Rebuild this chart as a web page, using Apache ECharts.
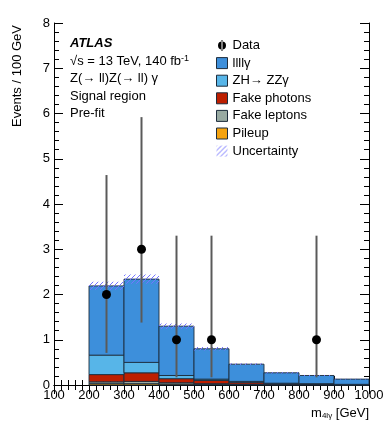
<!DOCTYPE html>
<html lang="en">
<head>
<meta charset="UTF-8">
<title>ATLAS m4lgamma signal region</title>
<script src="https://cdn.jsdelivr.net/npm/echarts@6/dist/echarts.min.js"></script>
<style>
  html, body { margin: 0; padding: 0; background: #fff; }
  #main { width: 389px; height: 438px; }
</style>
</head>
<body>
<div id="main"></div>
<script>
// bin lower edges (GeV), bin width 100
const binLow = [200, 300, 400, 500, 600, 700, 800, 900];
const binWidth = 100;

// stacked components, bottom to top (events / 100 GeV)
const pileup      = [0.03, 0.03, 0.02, 0.01, 0.01, 0.005, 0.005, 0.0];
const fakeLeptons = [0.04, 0.05, 0.03, 0.02, 0.01, 0.01, 0.005, 0.005];
const fakePhotons = [0.16, 0.19, 0.09, 0.07, 0.04, 0.015, 0.01, 0.005];
const zhZZg       = [0.43, 0.23, 0.07, 0.03, 0.02, 0.01, 0.01, 0.005];
const llllg       = [1.53, 1.84, 1.09, 0.67, 0.38, 0.23, 0.18, 0.115];
const uncertainty = [0.09, 0.10, 0.06, 0.04, 0.02, 0.015, 0.01, 0.008];

// data points
const dataX  = [250, 350, 450, 550, 850];
const dataY  = [2, 3, 1, 1, 1];
const dataLo = [0.71, 1.38, 0.17, 0.17, 0.17];
const dataHi = [4.64, 5.92, 3.30, 3.30, 3.30];

const stackDefs = [
  { name: 'Pileup', values: pileup, color: '#f5a30f' },
  { name: 'Fake leptons', values: fakeLeptons, color: '#98aaa2' },
  { name: 'Fake photons', values: fakePhotons, color: '#bd1f00' },
  { name: 'ZH\u2192 ZZ\u03b3', values: zhZZg, color: '#57b5e8' },
  { name: 'llll\u03b3', values: llllg, color: '#3d8fdb' }
];

// hatch pattern for uncertainty
const hatch = document.createElement('canvas');
hatch.width = 5; hatch.height = 5;
const hc = hatch.getContext('2d');
hc.strokeStyle = '#7474ff';
hc.lineWidth = 1;
hc.beginPath();
hc.moveTo(0, 5); hc.lineTo(5, 0);
hc.stroke();
const hatchFill = { image: hatch, repeat: 'repeat' };

const outline = '#1d2c3c';
const base = binLow.map(() => 0);
const series = [];

stackDefs.forEach(def => {
  const rows = binLow.map((x, i) => {
    const b = base[i];
    base[i] += def.values[i];
    return [x, x + binWidth, b, base[i]];
  });
  series.push({
    type: 'custom',
    name: def.name,
    itemStyle: { color: def.color, borderColor: outline, borderWidth: 1 },
    data: rows,
    renderItem: function (params, api) {
      const p0 = api.coord([api.value(0), api.value(2)]);
      const p1 = api.coord([api.value(1), api.value(3)]);
      return {
        type: 'rect',
        shape: { x: p0[0], y: p1[1], width: p1[0] - p0[0], height: p0[1] - p1[1] },
        style: { fill: def.color, stroke: outline, lineWidth: 0.9 }
      };
    }
  });
});

// uncertainty band around total
series.push({
  type: 'custom',
  name: 'Uncertainty',
  itemStyle: { color: hatchFill },
  data: binLow.map((x, i) => [x, x + binWidth, base[i] - uncertainty[i], base[i] + uncertainty[i]]),
  renderItem: function (params, api) {
    const p0 = api.coord([api.value(0), api.value(2)]);
    const p1 = api.coord([api.value(1), api.value(3)]);
    return {
      type: 'rect',
      shape: { x: p0[0], y: p1[1], width: p1[0] - p0[0], height: p0[1] - p1[1] },
      style: { fill: hatchFill }
    };
  }
});

// data with error bars
series.push({
  type: 'custom',
  name: 'Data',
  itemStyle: { color: '#000' },
  data: dataX.map((x, i) => [x, dataY[i], dataLo[i], dataHi[i]]),
  renderItem: function (params, api) {
    const c = api.coord([api.value(0), api.value(1)]);
    const lo = api.coord([api.value(0), api.value(2)]);
    const hi = api.coord([api.value(0), api.value(3)]);
    return {
      type: 'group',
      children: [
        { type: 'line', shape: { x1: lo[0], y1: lo[1], x2: hi[0], y2: hi[1] },
          style: { stroke: '#5a5a5a', lineWidth: 2 } },
        { type: 'circle', shape: { cx: c[0], cy: c[1], r: 4.5 }, style: { fill: '#000' } }
      ]
    };
  }
});

const font = 'Liberation Sans';
const tickCommon = {
  axisLine: { lineStyle: { color: '#000', width: 1 } },
  axisTick: { inside: true, length: 9, lineStyle: { color: '#000' } },
  minorTick: { show: true, splitNumber: 5, length: 5, lineStyle: { color: '#000' } },
  splitLine: { show: false },
  minorSplitLine: { show: false }
};

const option = {
  animation: false,
  textStyle: { fontFamily: font },
  grid: { left: 54, right: 20, top: 23, bottom: 53 },
  xAxis: [
    Object.assign({
      type: 'value', min: 100, max: 1000, interval: 100, position: 'bottom',
      axisLabel: { color: '#000', fontSize: 13, margin: 4, fontFamily: font, formatter: v => String(v) }
    }, tickCommon),
    Object.assign({
      type: 'value', min: 100, max: 1000, interval: 100, position: 'top',
      axisLabel: { show: false }
    }, tickCommon)
  ],
  yAxis: [
    Object.assign({
      type: 'value', min: 0, max: 8, interval: 1, position: 'left',
      axisLabel: { color: '#000', fontSize: 13, margin: 4, fontFamily: font }
    }, tickCommon),
    Object.assign({
      type: 'value', min: 0, max: 8, interval: 1, position: 'right',
      axisLabel: { show: false }
    }, tickCommon)
  ],
  legend: {
    orient: 'vertical',
    left: 216,
    top: 39,
    padding: 0,
    itemWidth: 11,
    itemHeight: 11,
    itemGap: 4.6,
    textStyle: { color: '#000', fontSize: 13, fontFamily: font },
    data: [
      { name: 'Data', icon: 'path://M4.5,0h1v11h-1z M1,5.5a4,4 0 1,0 8,0a4,4 0 1,0 -8,0z', itemStyle: { color: '#000' } },
      { name: 'llll\u03b3', icon: 'rect', itemStyle: { color: '#3d8fdb', borderColor: outline, borderWidth: 1 } },
      { name: 'ZH\u2192 ZZ\u03b3', icon: 'rect', itemStyle: { color: '#57b5e8', borderColor: outline, borderWidth: 1 } },
      { name: 'Fake photons', icon: 'rect', itemStyle: { color: '#bd1f00', borderColor: outline, borderWidth: 1 } },
      { name: 'Fake leptons', icon: 'rect', itemStyle: { color: '#98aaa2', borderColor: outline, borderWidth: 1 } },
      { name: 'Pileup', icon: 'rect', itemStyle: { color: '#f5a30f', borderColor: outline, borderWidth: 1 } },
      { name: 'Uncertainty', icon: 'rect', itemStyle: { color: hatchFill } }
    ]
  },
  graphic: [
    { type: 'text', left: 70, top: 37, style: { text: 'ATLAS', font: 'italic bold 13px "Liberation Sans"', fill: '#000' } },
    { type: 'text', left: 70, top: 54, style: {
      text: '{n|\u221as = 13 TeV, 140 fb}{s|-1}',
      rich: {
        n: { font: '13px "Liberation Sans"', fill: '#000' },
        s: { font: '9px "Liberation Sans"', fill: '#000', verticalAlign: 'top', padding: [0, 0, 6, 0] }
      }
    } },
    { type: 'text', left: 70, top: 72, style: { text: 'Z(\u2192 ll)Z(\u2192 ll) \u03b3', font: '13px "Liberation Sans"', fill: '#000' } },
    { type: 'text', left: 70, top: 90, style: { text: 'Signal region', font: '13px "Liberation Sans"', fill: '#000' } },
    { type: 'text', left: 70, top: 107, style: { text: 'Pre-fit', font: '13px "Liberation Sans"', fill: '#000' } },
    { type: 'text', x: 17, y: 25, rotation: Math.PI / 2, style: {
      text: 'Events / 100 GeV', font: '13px "Liberation Sans"', fill: '#000', align: 'right', verticalAlign: 'middle'
    } },
    { type: 'text', x: 369, y: 413, style: {
      text: '{n|m}{s|4l\u03b3}{n| [GeV]}', align: 'right', verticalAlign: 'middle',
      rich: {
        n: { font: '13px "Liberation Sans"', fill: '#000' },
        s: { font: '8px "Liberation Sans"', fill: '#000', padding: [6, 0, 0, 0] }
      }
    } }
  ],
  series: series
};

const chart = echarts.init(document.getElementById('main'), null, { renderer: 'canvas' });
chart.setOption(option);
</script>
</body>
</html>
